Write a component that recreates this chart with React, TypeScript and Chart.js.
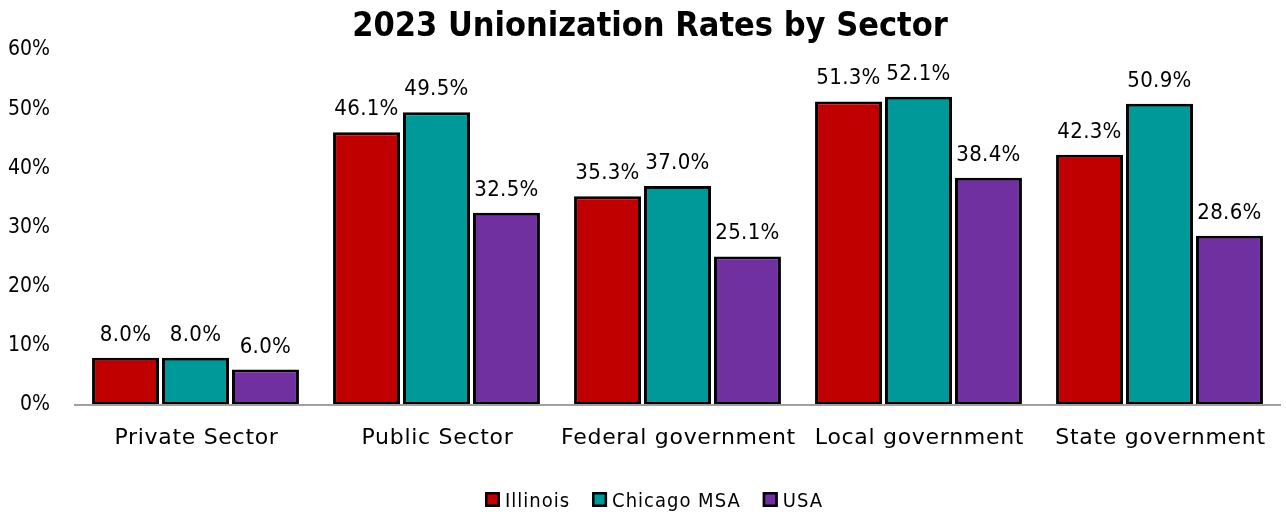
import React, { useEffect, useRef } from "react";
import { Chart, registerables } from "chart.js";

Chart.register(...registerables);

const title = "2023 Unionization Rates by Sector";
const categories = ["Private Sector", "Public Sector", "Federal government", "Local government", "State government"];
const seriesNames = ["Illinois", "Chicago MSA", "USA"];
const seriesColors = ["#C00000", "#009999", "#7030A0"];
const illinois = [8.0, 46.1, 35.3, 51.3, 42.3];
const chicagoMSA = [8.0, 49.5, 37.0, 52.1, 50.9];
const usa = [6.0, 32.5, 25.1, 38.4, 28.6];
const yTicks = [0, 10, 20, 30, 40, 50, 60];

const FONT = "'DejaVu Sans Condensed', 'DejaVu Sans', sans-serif";
const FONT_WIDE = "'DejaVu Sans', sans-serif";
const W = 1286;
const H = 514;

const customPlugin = {
  id: "custom",
  afterDraw(chart: any) {
    const ctx = chart.ctx;
    const area = chart.chartArea;
    ctx.save();
    // title
    ctx.font = `bold 34px ${FONT}`;
    ctx.fillStyle = "#000";
    ctx.textAlign = "center";
    ctx.textBaseline = "alphabetic";
    ctx.fillText(title, 650, 36);

    // x labels
    const xs = chart.scales.x;
    ctx.font = `22px ${FONT_WIDE}`;
    ctx.letterSpacing = "0.7px";
    categories.forEach((c, i) => {
      ctx.fillText(c, xs.getPixelForTick(i) + 1, area.bottom + 39);
    });

    // data labels
    ctx.letterSpacing = "0.3px";
    ctx.font = `22px ${FONT}`;
    chart.data.datasets.forEach((ds: any, i: number) => {
      const meta = chart.getDatasetMeta(i);
      meta.data.forEach((bar: any, j: number) => {
        ctx.fillText(ds.data[j].toFixed(1) + "%", bar.x, bar.y - 17);
      });
    });

    // legend
    ctx.font = `20px ${FONT}`;
    ctx.letterSpacing = "1px";
    const box = 15, gapBox = 5, gapItem = 22;
    const widths = seriesNames.map((n) => box + gapBox + ctx.measureText(n).width);
    const total = widths.reduce((a, b) => a + b, 0) + gapItem * (widths.length - 1);
    let x = 654 - total / 2;
    const cy = 499.5;
    ctx.textAlign = "left";
    seriesNames.forEach((n, i) => {
      ctx.fillStyle = seriesColors[i];
      ctx.fillRect(x, cy - box / 2, box, box);
      ctx.strokeStyle = "#000";
      ctx.lineWidth = 2.5;
      ctx.strokeRect(x + 1.25, cy - box / 2 + 1.25, box - 2.5, box - 2.5);
      ctx.fillStyle = "#000";
      ctx.fillText(n, x + box + gapBox, cy + 7);
      x += widths[i] + gapItem;
    });
    ctx.restore();
  },
};

export default function App() {
  const ref = useRef<HTMLCanvasElement>(null);
  useEffect(() => {
    if (!ref.current) return;
    const mk = (label: string, data: number[], color: string) => ({
      label, data, backgroundColor: color, borderColor: "#000", borderWidth: 3,
      borderSkipped: false,
      barPercentage: 0.957, categoryPercentage: 0.871,
    });
    const chart = new Chart(ref.current, {
      type: "bar",
      data: {
        labels: categories,
        datasets: [
          mk(seriesNames[0], illinois, seriesColors[0]),
          mk(seriesNames[1], chicagoMSA, seriesColors[1]),
          mk(seriesNames[2], usa, seriesColors[2]),
        ],
      },
      options: {
        animation: false,
        responsive: false,
        maintainAspectRatio: false,
        layout: { padding: { left: 0, right: 6, top: 50, bottom: 0 } },
        plugins: {
          title: { display: false },
          legend: { display: false },
          tooltip: { enabled: false },
        },
        scales: {
          x: {
            grid: { display: false, drawTicks: false, tickLength: 0 },
            border: { display: true, color: "#a0a0a0", width: 2, z: 1 },
            ticks: { display: false },
            afterFit: (axis: any) => { axis.height = 109; },
          },
          y: {
            min: 0,
            max: 60,
            afterBuildTicks: (axis: any) => { axis.ticks = yTicks.map((v) => ({ value: v })); },
            grid: { display: false, drawTicks: false, tickLength: 0 },
            border: { display: false },
            ticks: {
              font: { family: FONT, size: 21 },
              color: "#000",
              padding: 25,
              callback: (v: any) => v + "%",
            },
            afterFit: (axis: any) => { axis.width = 75; },
          },
        },
      },
      plugins: [customPlugin],
    });
    return () => chart.destroy();
  }, []);
  return (
    <canvas
      ref={ref}
      width={W}
      height={H}
      style={{ display: "block", position: "fixed", left: 0, top: 0 }}
    />
  );
}
